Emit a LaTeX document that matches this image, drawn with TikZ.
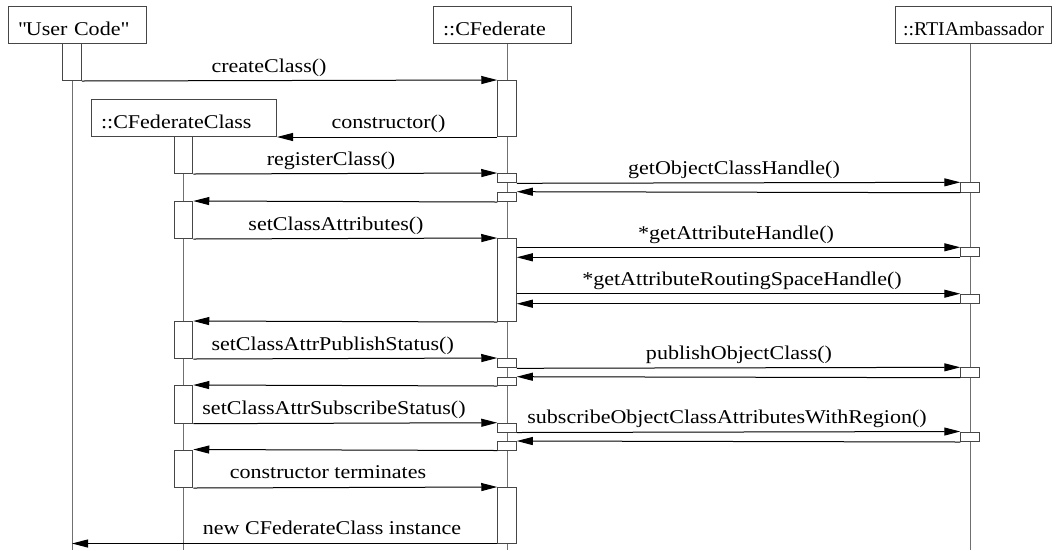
\documentclass[tikz,border=0pt]{standalone}
\usepackage{fontspec}
\setmainfont{Liberation Serif}[FakeStretch=1.13]
\usetikzlibrary{arrows.meta,calc}

\definecolor{lifegray}{RGB}{112,112,112}
\definecolor{boxgray}{RGB}{70,70,70}

% activation bar: name, lifeline x, top y, bottom y
\newcommand{\actbox}[4]{\node[act, minimum height={(#4-#3)*1pt}] (#1) at (#2,#3) {};}
% straight double quote, set as a glyph so the TeX mapping leaves it alone
\newcommand{\sq}{\XeTeXglyph\XeTeXcharglyph 34\relax}

\begin{document}
\begin{tikzpicture}[x=1pt,y=-1pt,
  txt/.style={font=\fontsize{19.5}{22}\selectfont},
  head/.style={txt, draw=boxgray, fill=white, line width=1pt, anchor=north west,
    inner xsep=9.5pt, inner ysep=0pt, text height=29pt, text depth=8pt, align=left},
  life/.style={draw=lifegray, line width=1pt},
  act/.style={draw=boxgray, fill=white, line width=1pt, minimum width=18.5pt,
    inner sep=0pt, anchor=north},
  msg/.style={line width=1pt, -{Triangle[length=16pt,width=8pt]}},
  lbl/.style={txt, anchor=base, inner sep=0pt}]

\useasboundingbox (0,0) rectangle (1059,550);

% object heads
\node[head, text width=119pt] (uc) at (8,6) {\sq User Code\sq};
\node[head, text width=119pt] (cf) at (433,6) {::CFederate};
\node[head, inner xsep=7.5pt, text width=141pt] (rti) at (895,6) {\scalebox{0.9}[1]{::RTIAmbassador}};
\node[head, text width=166pt] (cfc) at (91,99) {::CFederateClass};

% lifeline ends at the bottom border
\coordinate (ue) at (72,550);
\coordinate (ce) at (183.5,550);
\coordinate (fe) at (507,550);
\coordinate (re) at (970,550);

\draw[life] (ue |- uc.south) -- (ue);
\draw[life] (ce |- cfc.south) -- (ce);
\draw[life] (fe |- cf.south) -- (fe);
\draw[life] (re |- rti.south) -- (re);

% activations
\actbox{u1}{72}{43}{80}

\actbox{c1}{183.5}{136}{173}
\actbox{c2}{183.5}{201}{238}
\actbox{c3}{183.5}{321}{358}
\actbox{c4}{183.5}{385}{422.7}
\actbox{c5}{183.5}{449.5}{487}

\actbox{f1}{507}{80}{136}
\actbox{f2}{507}{173}{182.3}
\actbox{f3}{507}{191.7}{201}
\actbox{f4}{507}{238}{321}
\actbox{f5}{507}{358}{367.3}
\actbox{f6}{507}{376.7}{385}
\actbox{f7}{507}{422.7}{431.5}
\actbox{f8}{507}{441}{449.5}
\actbox{f9}{507}{487}{542.5}

\actbox{r1}{970}{182.3}{191.7}
\actbox{r2}{970}{247.3}{256.3}
\actbox{r3}{970}{293.7}{302.7}
\actbox{r4}{970}{367.3}{376.7}
\actbox{r5}{970}{431.5}{441}

% messages
\draw[msg] (u1.south east) -- (f1.north west);
\draw[msg] (f1.south west) -- (cfc.south east);
\draw[msg] (c1.south east) -- (f2.north west);
\draw[msg] (f2.south east) -- (r1.north west);
\draw[msg] (r1.south west) -- (f3.north east);
\draw[msg] (f3.south west) -- (c2.north east);
\draw[msg] (c2.south east) -- (f4.north west);
\draw[msg] (f4.east |- r2.north) -- (r2.north west);
\draw[msg] (r2.south west) -- (f4.east |- r2.south);
\draw[msg] (f4.east |- r3.north) -- (r3.north west);
\draw[msg] (r3.south west) -- (f4.east |- r3.south);
\draw[msg] (f4.south west) -- (c3.north east);
\draw[msg] (c3.south east) -- (f5.north west);
\draw[msg] (f5.south east) -- (r4.north west);
\draw[msg] (r4.south west) -- (f6.north east);
\draw[msg] (f6.south west) -- (c4.north east);
\draw[msg] (c4.south east) -- (f7.north west);
\draw[msg] (f7.south east) -- (r5.north west);
\draw[msg] (r5.south west) -- (f8.north east);
\draw[msg] (f8.south west) -- (c5.north east);
\draw[msg] (c5.south east) -- (f9.north west);
\draw[msg] (f9.south west) -- (f9.south west -| ue);

% message labels
\node[lbl] (l1)  at (269,72)    {createClass()};
\node[lbl] (l2)  at (388.5,128) {constructor()};
\node[lbl] (l3)  at (331,165)   {registerClass()};
\node[lbl] (l4)  at (734,174)   {getObjectClassHandle()};
\node[lbl] (l5)  at (336,230)   {setClassAttributes()};
\node[lbl] (l6)  at (736,239)   {*getAttributeHandle()};
\node[lbl] (l7)  at (742,285.5) {*getAttributeRoutingSpaceHandle()};
\node[lbl] (l8)  at (332.7,350) {setClassAttrPublishStatus()};
\node[lbl] (l9)  at (739,359)   {publishObjectClass()};
\node[lbl] (l10) at (334,414.5) {setClassAttrSubscribeStatus()};
\node[lbl] (l11) at (727,423.5) {subscribeObjectClassAttributesWithRegion()};
\node[lbl] (l12) at (328,478.5) {constructor terminates};
\node[lbl] (l13) at (332,534)   {new CFederateClass instance};
\end{tikzpicture}
\end{document}
